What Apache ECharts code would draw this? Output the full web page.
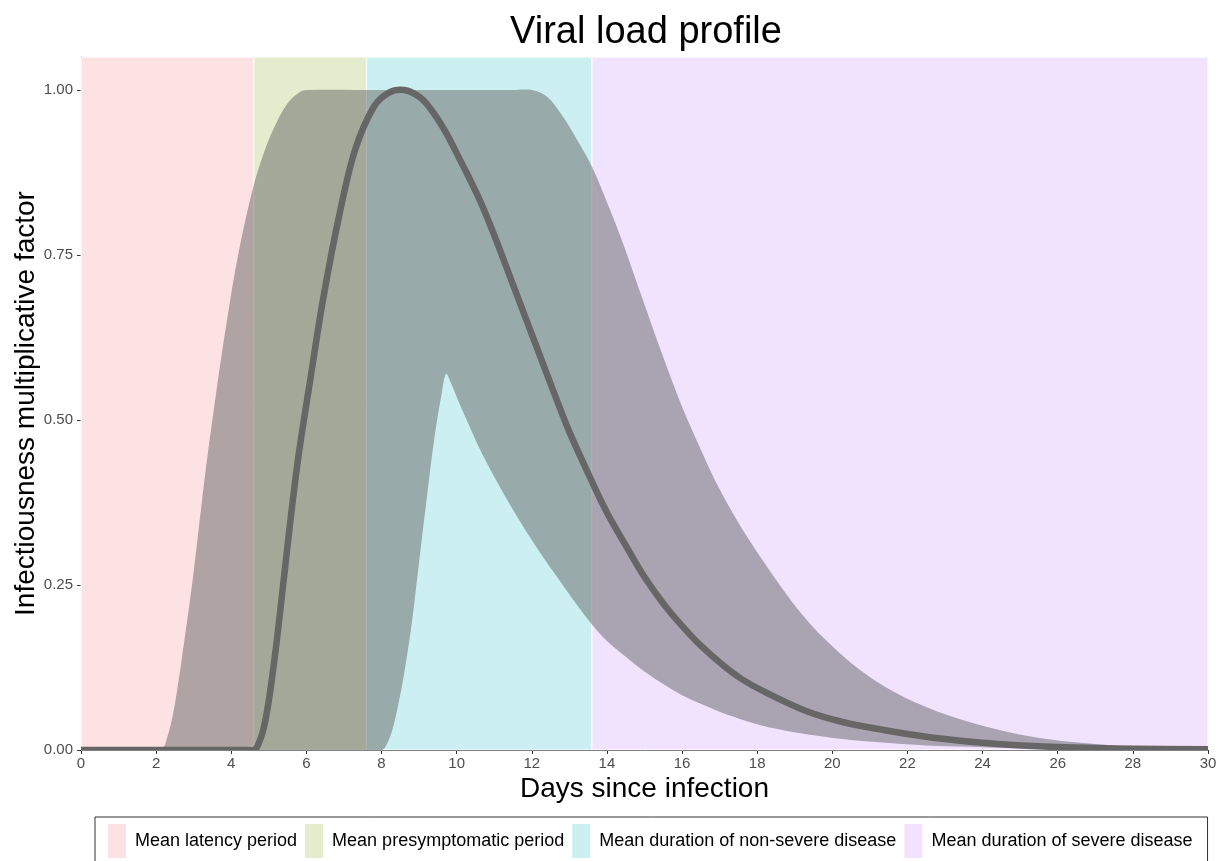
<!DOCTYPE html>
<html><head><meta charset="utf-8">
<script src="https://cdn.jsdelivr.net/npm/echarts@6/dist/echarts.min.js"></script>
<style>html,body{margin:0;padding:0;background:#fff}#c{width:1219px;height:861px}</style>
</head><body><div id="c"></div>
<script>
// Ribbon (range) x positions, lower and upper bounds
const ribbonX = [0, 2.1, 2.3, 2.5, 2.75, 3.0, 3.3, 3.6, 3.9, 4.2, 4.6, 4.9, 5.2, 5.5, 5.8, 6.0,
  8.0, 8.15, 8.3, 8.45, 8.6, 8.8, 9.0, 9.2, 9.4, 9.6, 9.72, 9.85, 10.0, 10.3, 10.6, 11.0, 11.5, 12.0,
  12.4, 12.8, 13.2, 13.6, 14.0, 14.4, 15.0, 15.5, 16.0, 16.5, 17.0, 17.6, 18.2, 18.7, 19.2, 19.8,
  20.5, 21.4, 22.5, 23.6, 24.7, 25.8, 27, 28, 29, 30];
const ribbonLower = [0, 0, 0, 0, 0, 0, 0, 0, 0, 0, 0, 0, 0, 0, 0, 0,
  0, 0.01, 0.033, 0.07, 0.115, 0.19, 0.285, 0.38, 0.47, 0.54, 0.57, 0.556, 0.535, 0.496, 0.458, 0.414, 0.364, 0.318,
  0.284, 0.252, 0.22, 0.19, 0.165, 0.146, 0.119, 0.1, 0.083, 0.07, 0.058, 0.046, 0.036, 0.03, 0.025, 0.02,
  0.015, 0.011, 0.007, 0.005, 0.003, 0.002, 0.001, 0, 0, 0];
const ribbonUpper = [0, 0, 0.02, 0.07, 0.165, 0.27, 0.415, 0.542, 0.656, 0.755, 0.856, 0.91, 0.95, 0.98, 0.996, 1.0,
  1.0, 1.0, 1.0, 1.0, 1.0, 1.0, 1.0, 1.0, 1.0, 1.0, 1.0, 1.0, 1.0, 1.0, 1.0, 1.0, 1.0, 1.0,
  0.99, 0.962, 0.925, 0.884, 0.83, 0.772, 0.675, 0.595, 0.52, 0.455, 0.395, 0.335, 0.283, 0.242, 0.205, 0.168,
  0.132, 0.096, 0.065, 0.043, 0.027, 0.016, 0.009, 0.005, 0.003, 0.002];

// Mean viral load profile
const meanX = [0, 2.3, 4.4, 4.6, 4.7, 4.85, 5.0, 5.2, 5.4, 5.6, 5.8, 6.1, 6.45, 6.9, 7.3, 7.8, 8.2, 8.6, 9.0, 9.3, 9.7,
  10.1, 10.6, 11.0, 11.5, 12.2, 12.6, 13.0, 13.6, 14.0, 14.5, 15.0, 15.5, 16.0, 16.5, 17.1, 17.6, 18.2,
  19.3, 20.3, 21.4, 22.5, 23.6, 24.7, 25.8, 27, 28, 30];
const meanY = [0, 0, 0, 0, 0.006, 0.03, 0.075, 0.16, 0.26, 0.36, 0.45, 0.56, 0.685, 0.817, 0.91, 0.975, 0.996, 1.0, 0.99, 0.972, 0.937,
  0.893, 0.835, 0.78, 0.705, 0.6, 0.54, 0.482, 0.407, 0.36, 0.31, 0.262, 0.222, 0.188, 0.158, 0.128, 0.107, 0.088,
  0.059, 0.042, 0.03, 0.02, 0.013, 0.008, 0.005, 0.003, 0.002, 0.001];

// Background periods
const periodNames = ['Mean latency period', 'Mean presymptomatic period', 'Mean duration of non-severe disease', 'Mean duration of severe disease'];
const periodStart = [0, 4.6, 7.6, 13.6];
const periodEnd = [4.6, 7.6, 13.6, 30];
const periodColors = ['#FDE2E3', '#E3EDCD', '#CCF0F1', '#F1E3FE'];

const yTickValues = [0, 0.25, 0.5, 0.75, 1.0];

const FONT = "'Liberation Sans', Arial, Helvetica, sans-serif";

const chart = echarts.init(document.getElementById('c'), null, {renderer: 'canvas'});

const bandSeries = periodNames.map((n, i) => ({
  name: n,
  type: 'line',
  data: [],
  itemStyle: {color: periodColors[i]},
  lineStyle: {color: periodColors[i]},
  silent: true,
  z: 0,
  markArea: {
    silent: true,
    itemStyle: {color: periodColors[i], borderColor: '#ffffff', borderWidth: 1},
    data: [[{xAxis: periodStart[i]}, {xAxis: periodEnd[i]}]]
  }
}));

const ribbonData = ribbonX.map((x, i) => [x, ribbonLower[i], ribbonUpper[i]]);
const meanData = meanX.map((x, i) => [x, meanY[i]]);

function renderRibbon(params, api) {
  if (params.dataIndex !== 0) return null;
  const pts = [];
  for (let i = 0; i < ribbonX.length; i++) pts.push(api.coord([ribbonX[i], ribbonUpper[i]]));
  for (let i = ribbonX.length - 1; i >= 0; i--) pts.push(api.coord([ribbonX[i], ribbonLower[i]]));
  return {
    type: 'polygon',
    shape: {points: pts, smooth: 0.35},
    style: {fill: 'rgba(100,100,100,0.5)', stroke: null}
  };
}

function renderMean(params, api) {
  if (params.dataIndex !== 0) return null;
  const pts = meanX.map((x, i) => api.coord([x, meanY[i]]));
  return {
    type: 'polyline',
    shape: {points: pts, smooth: 0.35},
    style: {stroke: '#666666', lineWidth: 6.5, fill: null, lineJoin: 'round'}
  };
}

const option = {
  backgroundColor: '#ffffff',
  animation: false,
  title: {
    text: 'Viral load profile',
    left: 641, top: 9, textAlign: 'center',
    textStyle: {fontFamily: FONT, fontSize: 38, fontWeight: 'normal', color: '#000'}
  },
  grid: {left: 81, right: 11, top: 57, bottom: 111, containLabel: false, outerBoundsMode: 'none'},
  legend: {
    data: periodNames,
    left: 95, top: 817,
    icon: 'rect',
    itemWidth: 18, itemHeight: 34,
    itemGap: 8,
    padding: [7, 15, 7, 13],
    borderColor: '#333', borderWidth: 1,
    textStyle: {fontFamily: FONT, fontSize: 18, color: '#000', padding: [0, 0, 0, 4]},
    selectedMode: false
  },
  xAxis: {
    type: 'value', min: 0, max: 30, interval: 2,
    name: 'Days since infection', nameLocation: 'middle', nameGap: 25, nameMoveOverlap: false,
    nameTextStyle: {fontFamily: FONT, fontSize: 28, color: '#000'},
    axisLine: {show: true, lineStyle: {color: '#000', width: 1}},
    axisTick: {show: true, length: 4, lineStyle: {color: '#333'}},
    axisLabel: {fontFamily: FONT, fontSize: 15, color: '#4D4D4D', margin: 6},
    splitLine: {show: false}
  },
  yAxis: {
    type: 'value', min: 0, max: 1.05,
    name: 'Infectiousness multiplicative factor', nameLocation: 'middle', nameGap: 41, nameMoveOverlap: false,
    nameTextStyle: {fontFamily: FONT, fontSize: 28, color: '#000'},
    axisLine: {show: true, lineStyle: {color: '#000', width: 1}},
    axisTick: {show: true, length: 4, lineStyle: {color: '#333'}, customValues: yTickValues},
    axisLabel: {fontFamily: FONT, fontSize: 15, color: '#4D4D4D', margin: 8,
      customValues: yTickValues, formatter: v => v.toFixed(2)},
    splitLine: {show: false}
  },
  series: [
    ...bandSeries,
    {
      name: 'range', type: 'custom', data: ribbonData,
      encode: {x: 0, y: [1, 2]},
      renderItem: renderRibbon, silent: true, z: 2, clip: true
    },
    {
      name: 'mean', type: 'custom', data: meanData,
      encode: {x: 0, y: 1},
      renderItem: renderMean, silent: true, z: 3, clip: true
    }
  ]
};
chart.setOption(option);
</script>
</body></html>
